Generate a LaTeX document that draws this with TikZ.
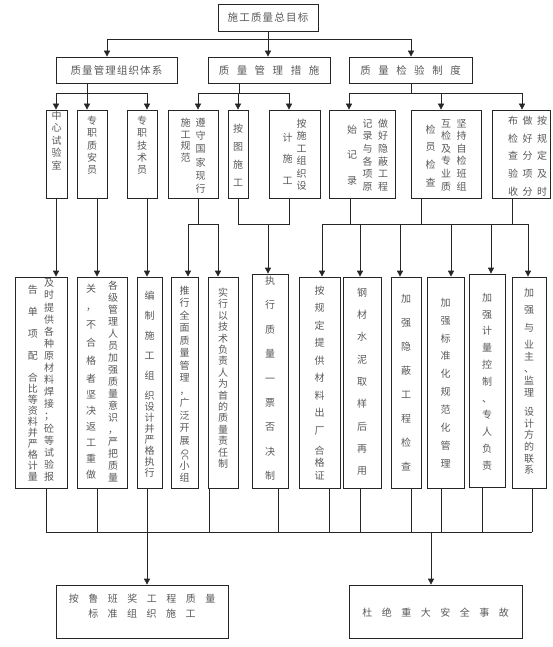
\documentclass[tikz,border=0pt]{standalone}
\usepackage{fontspec}
\setmainfont{Noto Sans CJK SC}
\usepackage{graphicx}
\usetikzlibrary{arrows.meta}
\def\vlistend{vlistend}
\def\vlistA#1{\ifx\vlistend#1\else\hbox to 11pt{\hss#1\hss}\expandafter\vlistA\fi}
\newcommand\vl[2]{{\baselineskip=#1pt\relax\vlistA#2\vlistend}}
\newcommand\vcol[2][0]{\raisebox{-#1pt}{\parbox[t]{11pt}{#2}}}
\newcommand\vc[3][0]{\vcol[#1]{\vl{#2}{#3}}}
\newcommand\colin[4]{\parbox[c][#2pt][t]{#1pt}{\vspace*{#3pt}\centering#4\par}}
\newcommand\gapped[2]{\def\gapsize{#1}\gapA#2\vlistend}
\def\gapA#1{\ifx\vlistend#1\unskip\else#1\hspace{\gapsize}\expandafter\gapA\fi}
\tikzset{
  wire/.style={draw=black!85, line width=0.7pt},
  arw/.style={wire, -{Triangle[length=6pt,width=6pt]}},
  cbox/.style={draw=black!85, line width=0.7pt, inner sep=0pt, text=black!65, font=\fontsize{10pt}{12pt}\selectfont},
  headbox/.style={cbox, minimum height=26pt, font=\fontsize{10.5pt}{12pt}\selectfont}
}
\begin{document}
\begin{tikzpicture}[x=1pt, y=-1pt]
  \useasboundingbox (0,0) rectangle (553,647);

  \node[headbox, minimum width=100pt, minimum height=27pt] (mubiao) at (268,17.5) {\gapped{1.2pt}{施工质量总目标}};
  \node[headbox, minimum width=121pt] (tixi) at (116.5,70) {\gapped{1.1pt}{质量管理组织体系}};
  \node[headbox, minimum width=122pt] (cuoshi) at (269,70) {\gapped{7.5pt}{质量管理措施}};
  \node[headbox, minimum width=123pt] (zhidu) at (410.5,70) {\gapped{7.5pt}{质量检验制度}};

  \node[cbox] (shiyan) at (56.5,154) {\colin{21}{88}{1}{\vc{12.5}{中心试验室}}};
  \node[cbox] (zhian) at (92,154) {\colin{30}{88}{6}{\vc{12.3}{专职质安员}}};
  \node[cbox] (jishu) at (142,154) {\colin{30}{88}{6}{\vc{12.3}{专职技术员}}};
  \node[cbox] (guifan) at (193,154) {\colin{50}{88}{8}{\vc{11.7}{施工规范}\hspace{4pt}\vc{13.2}{遵守国家现行}}};
  \node[cbox] (tuzhi) at (238,154) {\colin{20}{88}{14}{\vc{18}{按图施工}}};
  \node[cbox] (zuzhi) at (294.5,154) {\colin{51}{88}{9}{\vc[14]{21.5}{计施工}\hspace{3pt}\vc{12.4}{按施工组织设}}};
  \node[cbox] (jilu) at (362,154) {\colin{66}{88}{9}{\hspace*{11pt}\vc[6]{25.5}{始记录}\hspace{4.5pt}\vc{12.6}{记录与各项原}\hspace{4.5pt}\vc{12.6}{做好隐蔽工程}}};
  \node[cbox] (zijian) at (446,154) {\colin{70}{88}{9}{\vc[6]{17.7}{检员检查}\hspace{4.5pt}\vc{12.6}{互检及专业质}\hspace{4.5pt}\vc{12.6}{坚持自检班组}}};
  \node[cbox] (yanshou) at (521,154) {\colin{58}{88}{6}{\hspace*{13pt}\vc{17.7}{布检查验收}\hspace{3.5pt}\vc{17.7}{做好分项分}\hspace{3.5pt}\vc{17.7}{按规定及时}}};

  \node[cbox] (gongying) at (41,382.5) {\colin{52}{211}{2}{\vcol[7]{\vl{22}{告单项配合}\vl{11}{比等资料并严格计量}}\hspace{5pt}\vc{12.1}{及时提供各种原材料焊接；砼等试验报}}};
  \node[cbox] (fanggong) at (102,382.5) {\colin{50}{211}{4}{\vcol[3]{\vl{18}{关，不合格者}\vl{16}{坚决返工重做}}\hspace{11pt}\vc{12}{各级管理人员加强质量意识，严把质量}}};
  \node[cbox] (shigong) at (149.5,382.5) {\colin{25}{211}{14}{\vcol{\vl{20}{编制施工组织}\vl{11}{设计并严格执行}}}};
  \node[cbox] (qcgroup) at (184.5,382.5) {\colin{27}{211}{9}{\vc{12.5}{推行全面质量管理，广泛开展{\rotatebox[origin=c]{-90}{\fontsize{8pt}{8pt}\selectfont QC}}小组}}};
  \node[cbox] (zeren) at (223,382.5) {\colin{30}{211}{11}{\vc{11.4}{实行以技术负责人为首的质量责任制}}};
  \node[cbox] (foujue) at (270,381) {\colin{36}{214}{2}{\vc{24.4}{执行质量一票否决制}}};
  \node[cbox] (hege) at (319.5,382.5) {\colin{41}{211}{9}{\vcol{\vl{17.5}{按规定提供材料出厂}\vl{20}{合}\vl{12.5}{格证}}}};
  \node[cbox] (quyang) at (362,382.5) {\colin{38}{211}{11}{\vc{22.3}{钢材水泥取样后再用}}};
  \node[cbox] (yinbi) at (406,382.5) {\colin{30}{211}{17}{\vc{24}{加强隐蔽工程检查}}};
  \node[cbox] (biaozhun) at (445.5,382.5) {\colin{37}{211}{21}{\vc{17.9}{加强标准化规范化管理}}};
  \node[cbox] (jiliang) at (487,380.5) {\colin{36}{213}{19}{\vc{16.8}{加强计量控制、专人负责}}};
  \node[cbox] (lianxi) at (529,382.5) {\colin{34}{211}{11}{\vcol{\vl{17.5}{加强与业}\vl{12}{主、监理}\vl{19}{设}\vl{11.6}{计方的联系}}}};

  \node[cbox] (luban) at (142,611.5) {\colin{172}{53}{9}{\gapped{9.5pt}{按鲁班奖工程质量}\\[3pt]\gapped{9.5pt}{标准组织施工}}};
  \node[cbox] (shigu) at (435.5,611.5) {\colin{173}{53}{23}{\gapped{9.5pt}{杜绝重大安全事故}}};

  \coordinate (tl) at (107,39);
  \coordinate (tr) at (411,39);
  \draw[wire] (mubiao.south) -- (mubiao.south |- tl);
  \draw[wire] (tl) -- (tr);
  \draw[arw] (tl) -- (tl |- tixi.north);
  \draw[arw] (mubiao.south |- tl) -- (mubiao.south |- cuoshi.north);
  \draw[arw] (tr) -- (tr |- zhidu.north);

  \coordinate (o1) at (56,93);
  \coordinate (o2) at (147,93);
  \draw[wire] (tixi.south -| 87,0) -- (87,0 |- o1);
  \draw[wire] (o1) -- (o2);
  \foreach \n/\x in {shiyan/56, zhian/87, jishu/147}
    \draw[arw] (\x,0 |- o1) -- (\n.north -| \x,0);
  \coordinate (m1) at (198,93);
  \coordinate (m2) at (289,93);
  \draw[wire] (cuoshi.south -| 239,0) -- (239,0 |- m1);
  \draw[wire] (m1) -- (m2);
  \foreach \n/\x in {guifan/198, tuzhi/238, zuzhi/289}
    \draw[arw] (\x,0 |- m1) -- (\n.north -| \x,0);
  \coordinate (z1) at (349,93);
  \coordinate (z2) at (522,93);
  \draw[wire] (zhidu.south -| 411,0) -- (411,0 |- z1);
  \draw[wire] (z1) -- (z2);
  \foreach \n/\x in {jilu/349, zijian/441, yanshou/522}
    \draw[arw] (\x,0 |- z1) -- (\n.north -| \x,0);

  \draw[arw] (shiyan.south -| 56,0) -- (gongying.north -| 56,0);
  \draw[arw] (zhian.south -| 97,0) -- (fanggong.north -| 97,0);
  \draw[arw] (jishu.south -| 147,0) -- (shigong.north -| 147,0);
  \coordinate (s1) at (188,224);
  \coordinate (s2) at (218,224);
  \draw[wire] (guifan.south -| 198,0) -- (198,0 |- s1);
  \draw[wire] (s1) -- (s2);
  \draw[arw] (s1) -- (qcgroup.north -| s1);
  \draw[arw] (s2) -- (zeren.north -| s2);
  \coordinate (p1) at (238,224);
  \coordinate (p2) at (289,224);
  \draw[wire] (tuzhi.south -| p1) -- (p1) -- (p2) -- (zuzhi.south -| p2);
  \draw[arw] (268,0 |- p1) -- (foujue.north -| 268,0);
  \coordinate (q1) at (322,224);
  \coordinate (q2) at (528,224);
  \draw[wire] (q1) -- (q2);
  \foreach \n/\x in {jilu/350, zijian/421, yanshou/512}
    \draw[wire] (\n.south -| \x,0) -- (\x,0 |- q1);
  \foreach \n/\x in {hege/322, quyang/360, yinbi/400, biaozhun/451, jiliang/491, lianxi/528}
    \draw[arw] (\x,0 |- q1) -- (\n.north -| \x,0);

  \coordinate (bl) at (46,532);
  \coordinate (br) at (532,532);
  \draw[wire] (bl) -- (br);
  \foreach \n/\x in {gongying/46, fanggong/97, shigong/147, zeren/209, foujue/278, hege/329, quyang/360, yinbi/411, biaozhun/441, jiliang/482, lianxi/532}
    \draw[wire] (\n.south -| \x,0) -- (\x,0 |- bl);
  \draw[arw] (147,0 |- bl) -- (luban.north -| 147,0);
  \draw[arw] (431,0 |- bl) -- (shigu.north -| 431,0);
\end{tikzpicture}
\end{document}
